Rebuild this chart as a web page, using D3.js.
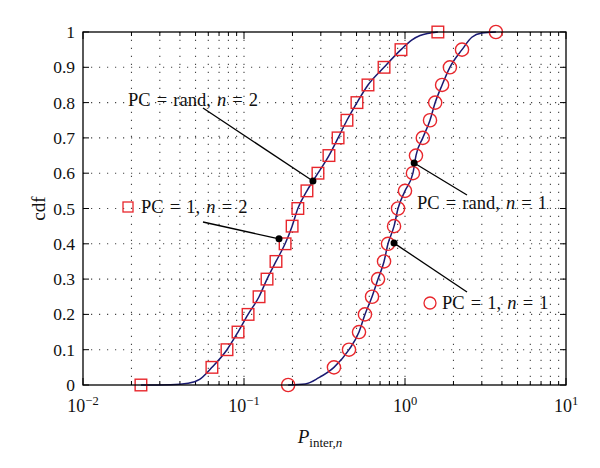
<!DOCTYPE html>
<head>
  <meta charset="utf-8">
  <script src="https://d3js.org/d3.v7.min.js"></script>
  <style>
    body { margin:0; background:#fff; }
    svg { font-family: "Liberation Serif", "DejaVu Serif", serif; }
  </style>
</head>
<body>
  <svg width="600" height="468"></svg>
  <script>
    var width = 600, height = 468;
    var margin = {top: 32, right: 34, bottom: 83, left: 83};

    // tick values
    var xTicks = [0.01, 0.1, 1, 10];
    var xTickExp = ['\u22122', '\u22121', '0', '1'];
    var yTicks = [0, 0.1, 0.2, 0.3, 0.4, 0.5, 0.6, 0.7, 0.8, 0.9, 1];
    var yTickLabels = ['0', '0.1', '0.2', '0.3', '0.4', '0.5', '0.6', '0.7', '0.8', '0.9', '1'];

    // markers (simulation)
    var cdfLevels = [0, 0.05, 0.1, 0.15, 0.2, 0.25, 0.3, 0.35, 0.4, 0.45, 0.5,
                     0.55, 0.6, 0.65, 0.7, 0.75, 0.8, 0.85, 0.9, 0.95, 1];
    var n2MarkerX = [0.0229, 0.0632, 0.0784, 0.0918, 0.106, 0.124, 0.139, 0.158, 0.180, 0.199, 0.216,
                     0.246, 0.288, 0.337, 0.384, 0.436, 0.503, 0.589, 0.741, 0.944, 1.60];
    var n1MarkerX = [0.188, 0.362, 0.449, 0.518, 0.564, 0.624, 0.680, 0.741, 0.784, 0.855, 0.905,
                     1.0, 1.12, 1.17, 1.29, 1.43, 1.54, 1.70, 1.90, 2.26, 3.67];

    // solid curves (analysis)
    var n2CurveX = [0.0229, 0.035, 0.045, 0.053, 0.0632, 0.0784, 0.0918, 0.106, 0.124, 0.139, 0.158, 0.180,
                    0.199, 0.216, 0.246, 0.288, 0.337, 0.384, 0.436, 0.503, 0.589, 0.741, 0.944, 1.10, 1.24, 1.60];
    var n2CurveY = [0, 0.001, 0.005, 0.016, 0.05, 0.1, 0.15, 0.2, 0.25, 0.3, 0.35, 0.4,
                    0.45, 0.5, 0.55, 0.6, 0.65, 0.7, 0.75, 0.8, 0.85, 0.9, 0.95, 0.977, 0.99, 1];
    var n1CurveX = [0.188, 0.24, 0.29, 0.362, 0.449, 0.518, 0.564, 0.624, 0.680, 0.741, 0.784, 0.855,
                    0.905, 1.0, 1.12, 1.17, 1.29, 1.43, 1.54, 1.70, 1.90, 2.26, 2.6, 3.0, 3.67];
    var n1CurveY = [0, 0.003, 0.02, 0.05, 0.1, 0.15, 0.2, 0.25, 0.3, 0.35, 0.4, 0.45,
                    0.5, 0.55, 0.6, 0.65, 0.7, 0.75, 0.8, 0.85, 0.9, 0.95, 0.985, 0.997, 1];

    // annotations: point on curve, label
    var annX = [0.268, 0.165, 1.14, 0.855];
    var annY = [0.578, 0.414, 0.629, 0.402];

    var svg = d3.select('svg');

    var x = d3.scaleLog().domain([0.01, 10]).range([margin.left, width - margin.right]);
    var y = d3.scaleLinear().domain([0, 1]).range([height - margin.bottom, margin.top]);
    var x0 = x.range()[0], x1 = x.range()[1], y0 = y.range()[0], y1 = y.range()[1];

    // minor log ticks
    var minor = [];
    [0.01, 0.1, 1].forEach(d => { for (var k = 2; k <= 9; k++) minor.push(d * k); });

    // grid
    var grid = svg.append('g').attr('stroke', '#444').attr('stroke-width', 1.1)
      .attr('stroke-dasharray', '1.2,6.8');
    grid.selectAll('.gx').data(minor.concat(xTicks.slice(1, 3))).enter().append('line')
      .attr('x1', d => x(d)).attr('x2', d => x(d)).attr('y1', y0).attr('y2', y1);
    grid.selectAll('.gy').data(yTicks.slice(1, 10)).enter().append('line')
      .attr('x1', x0).attr('x2', x1).attr('y1', d => y(d)).attr('y2', d => y(d));

    // ticks inward on all sides
    var ticks = svg.append('g').attr('stroke', '#000').attr('stroke-width', 1);
    ticks.selectAll('.tb').data(minor).enter().append('line')
      .attr('x1', d => x(d)).attr('x2', d => x(d)).attr('y1', y0).attr('y2', y0 - 4);
    ticks.selectAll('.tt').data(minor).enter().append('line')
      .attr('x1', d => x(d)).attr('x2', d => x(d)).attr('y1', y1).attr('y2', y1 + 4);
    ticks.selectAll('.tbm').data(xTicks).enter().append('line')
      .attr('x1', d => x(d)).attr('x2', d => x(d)).attr('y1', y0).attr('y2', y0 - 7);
    ticks.selectAll('.ttm').data(xTicks).enter().append('line')
      .attr('x1', d => x(d)).attr('x2', d => x(d)).attr('y1', y1).attr('y2', y1 + 7);
    ticks.selectAll('.tl').data(yTicks).enter().append('line')
      .attr('x1', x0).attr('x2', x0 + 6).attr('y1', d => y(d)).attr('y2', d => y(d));
    ticks.selectAll('.tr').data(yTicks).enter().append('line')
      .attr('x1', x1).attr('x2', x1 - 6).attr('y1', d => y(d)).attr('y2', d => y(d));

    // curves
    var line = d3.line().x(d => x(d[0])).y(d => y(d[1])).curve(d3.curveMonotoneX);
    [[n2CurveX, n2CurveY], [n1CurveX, n1CurveY]].forEach(c => {
      svg.append('path')
        .datum(c[0].map((v, i) => [v, c[1][i]]))
        .attr('d', line)
        .attr('fill', 'none')
        .attr('stroke', '#1a1a72')
        .attr('stroke-width', 1.5);
    });

    var red = '#e8262c';
    // square markers
    svg.selectAll('.sq').data(n2MarkerX).enter().append('rect')
      .attr('x', d => x(d) - 5.8).attr('y', (d, i) => y(cdfLevels[i]) - 5.8)
      .attr('width', 11.6).attr('height', 11.6)
      .attr('fill', 'none').attr('stroke', red).attr('stroke-width', 1.4);
    // circle markers
    svg.selectAll('.ci').data(n1MarkerX).enter().append('circle')
      .attr('cx', d => x(d)).attr('cy', (d, i) => y(cdfLevels[i])).attr('r', 6.6)
      .attr('fill', 'none').attr('stroke', red).attr('stroke-width', 1.4);

    // axis box
    svg.append('rect').attr('x', x0).attr('y', y1).attr('width', x1 - x0).attr('height', y0 - y1)
      .attr('fill', 'none').attr('stroke', '#000').attr('stroke-width', 1.3);

    // annotations
    var annEnds = [[203, 108], [203, 222], [467, 195], [467, 292]];
    annX.forEach((v, i) => {
      svg.append('line').attr('x1', x(v)).attr('y1', y(annY[i]))
        .attr('x2', annEnds[i][0]).attr('y2', annEnds[i][1])
        .attr('stroke', '#000').attr('stroke-width', 1.3);
      svg.append('circle').attr('cx', x(v)).attr('cy', y(annY[i])).attr('r', 3.5).attr('fill', '#000');
    });

    function label(tx, ty, second) {
      var t = svg.append('text').attr('x', tx).attr('y', ty).attr('font-size', 18.5)
        .attr('word-spacing', 1.5).attr('fill', '#111');
      t.append('tspan').text('PC = ' + second + ', ');
      t.append('tspan').attr('font-style', 'italic').text('n');
      return t;
    }
    label(128, 106, 'rand').append('tspan').text(' = 2');
    label(141, 213, '1').append('tspan').text(' = 2');
    label(417, 209, 'rand').append('tspan').text(' = 1');
    label(442, 309, '1').append('tspan').text(' = 1');
    svg.append('rect').attr('x', 123).attr('y', 202).attr('width', 10).attr('height', 10)
      .attr('fill', 'none').attr('stroke', red).attr('stroke-width', 1.3);
    svg.append('circle').attr('cx', 430).attr('cy', 303).attr('r', 6)
      .attr('fill', 'none').attr('stroke', red).attr('stroke-width', 1.3);

    // y tick labels
    svg.selectAll('.yl').data(yTicks).enter().append('text')
      .attr('x', x0 - 8).attr('y', d => y(d) + 6)
      .attr('text-anchor', 'end').attr('font-size', 17.5).attr('fill', '#111')
      .text((d, i) => yTickLabels[i]);

    // x tick labels
    xTicks.forEach((d, i) => {
      var t = svg.append('text').attr('x', x(d)).attr('y', 412)
        .attr('text-anchor', 'middle').attr('font-size', 18).attr('fill', '#111');
      t.append('tspan').text('10');
      t.append('tspan').attr('dy', -7).attr('font-size', 12.5).text(xTickExp[i]);
    });

    // axis titles
    var xt = svg.append('text').attr('x', 320).attr('y', 443)
      .attr('text-anchor', 'middle').attr('font-size', 19).attr('fill', '#111');
    xt.append('tspan').attr('font-style', 'italic').text('P');
    xt.append('tspan').attr('dy', 4).attr('font-size', 13).text('inter,');
    xt.append('tspan').attr('font-size', 13).attr('font-style', 'italic').text('n');

    svg.append('text')
      .attr('transform', 'translate(45,' + ((y0 + y1) / 2) + ') rotate(-90)')
      .attr('text-anchor', 'middle').attr('font-size', 19).attr('fill', '#111')
      .text('cdf');
  </script>
</body>
